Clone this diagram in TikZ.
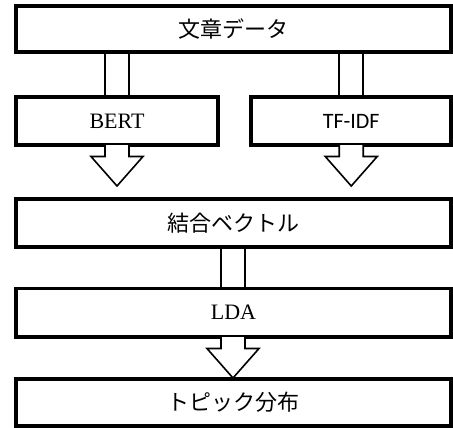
\documentclass[tikz,border=0pt]{standalone}
\usepackage{fontspec}
\setmainfont{Liberation Serif}
\newfontfamily\jpfont{Noto Sans CJK JP}
\newfontfamily\calfont{Carlito}
\usetikzlibrary{calc}
\begin{document}
\begin{tikzpicture}[x=1pt,y=1pt,
  box/.style={draw=black, line width=3.6pt, fill=white, inner sep=0pt, outer sep=0pt,
    minimum width=435pt, minimum height=47pt, font=\fontsize{22}{26}\selectfont},
  shaft/.style={draw=black, line width=1.6pt},
  blockarrow/.style={draw=black, fill=white, line width=1.6pt, line join=miter}]
\useasboundingbox (0,0) rectangle (453,-428);
% boxes
\node[box, minimum height=46pt] (top) at (233.5,-29) {\jpfont 文章データ};
\node[box, minimum width=202pt, minimum height=48pt] (bert) at (117,-121) {BERT};
\node[box, minimum width=200pt, minimum height=48pt] (tfidf) at (351.25,-121) {\calfont TF-IDF};
\node[box, minimum height=48pt] (comb) at (233.5,-223) {\jpfont 結合ベクトル};
\node[box, minimum height=48.5pt] (lda) at (233.5,-312.75) {LDA};
\node[box, minimum height=47pt] (topic) at (233.5,-402.5) {\jpfont トピック分布};
% shafts (no head)
\coordinate (b1) at ($(bert.north)+(-12,0)$);
\coordinate (b2) at ($(bert.north)+(12,0)$);
\draw[shaft] (b1) -- (b1 |- top.south);
\draw[shaft] (b2) -- (b2 |- top.south);
\coordinate (t1) at ($(tfidf.north)+(-12,0)$);
\coordinate (t2) at ($(tfidf.north)+(12,0)$);
\draw[shaft] (t1) -- (t1 |- top.south);
\draw[shaft] (t2) -- (t2 |- top.south);
\coordinate (l1) at ($(lda.north)+(-12.5,0)$);
\coordinate (l2) at ($(lda.north)+(11.5,0)$);
\draw[shaft] (l1) -- (l1 |- comb.south);
\draw[shaft] (l2) -- (l2 |- comb.south);
% block arrows
\coordinate (bs) at (bert.south);
\coordinate (ts) at (tfidf.south);
\coordinate (ls) at ($(lda.south)+(-0.5,0)$);
\foreach \src in {bs, ts, ls} {
  \draw[blockarrow] ($(\src)+(-12,0)$) -- ++(0,-11.5) -- ++(-14,0)
    -- ($(\src)+(0,-41)$) -- ($(\src)+(26,-11.5)$) -- ++(-14,0) -- ++(0,11.5);
}
\end{tikzpicture}
\end{document}
